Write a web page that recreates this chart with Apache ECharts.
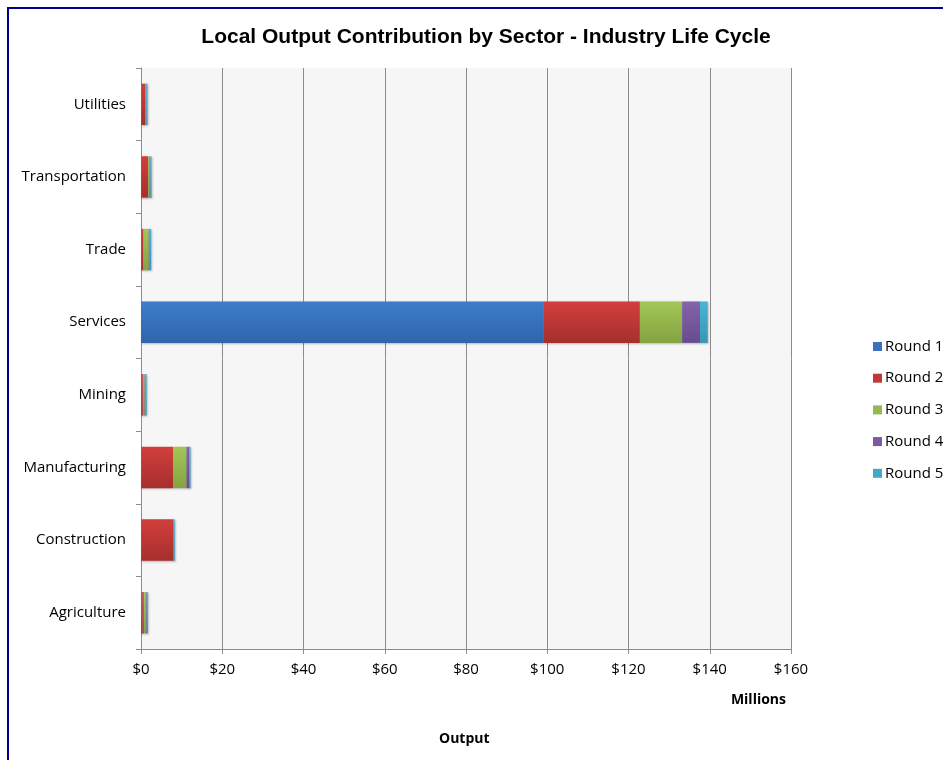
<!DOCTYPE html>
<html><head><meta charset="utf-8">
<script src="https://cdn.jsdelivr.net/npm/echarts@6/dist/echarts.min.js"></script>
<style>
html,body{margin:0;padding:0;background:#fff;}
#frame{position:absolute;left:7px;top:7px;width:960px;height:780px;border-left:2px solid #00008b;border-top:2px solid #00008b;box-sizing:border-box;}
#c{position:absolute;left:0;top:0;width:943px;height:760px;}
</style></head>
<body>
<div id="frame"></div>
<div id="c"></div>
<script>
const categories = ['Agriculture','Construction','Manufacturing','Mining','Services','Trade','Transportation','Utilities'];
const round1 = [0.3, 0.1, 0.1, 0.3, 99.0, 0.1, 0.1, 0.1];
const round2 = [0.4, 7.9, 7.8, 0.3, 23.8, 0.5, 1.7, 1.0];
const round3 = [0.5, 0.05, 3.3, 0.3, 10.4, 1.3, 0.3, 0.1];
const round4 = [0.2, 0.05, 0.7, 0.2, 4.4, 0.2, 0.2, 0.1];
const round5 = [0.3, 0.2, 0.3, 0.3, 1.9, 0.4, 0.3, 0.3];
const seriesNames = ['Round 1','Round 2','Round 3','Round 4','Round 5'];
const xTicks = [0,20,40,60,80,100,120,140,160];

const colors = [['#3d7dcc','#2f66ab'],['#d23f3c','#a62f2d'],['#a2c756','#84a342'],['#8464ac','#674c8c'],['#4bb4d4','#3796b4']];
const legendColors = ['#3a72c0','#c0393a','#94b94e','#7b5aa2','#40a8c8'];
const data = [round1, round2, round3, round4, round5];
const FONT = 'Open Sans, Noto Sans';

const chart = echarts.init(document.getElementById('c'));
chart.setOption({
  animation:false,
  title:{text:'Local Output Contribution by Sector - Industry Life Cycle',left:481,top:22,textAlign:'center',
    textStyle:{fontFamily:'Liberation Sans, Arial',fontWeight:'bold',fontSize:21,color:'#000'}},
  legend:{orient:'vertical',left:868,top:334,itemWidth:9,itemHeight:9,itemGap:16.7,icon:'rect',
    data:seriesNames.map((n,i)=>({name:n,itemStyle:{color:legendColors[i]}})),
    textStyle:{fontFamily:FONT,fontSize:15,lineHeight:15,color:'#000',padding:[0,0,0,-2]}},
  grid:{left:141,top:68,width:650,height:581,containLabel:false,show:true,backgroundColor:'#f6f6f6',borderWidth:0},
  xAxis:{type:'value',min:0,max:160,interval:20,
    name:'Millions',nameLocation:'end',nameGap:0,
    nameTextStyle:{fontFamily:FONT,fontWeight:'bold',fontSize:14,color:'#000',align:'right',verticalAlign:'top',padding:[44,5,0,0]},
    axisLine:{show:true,lineStyle:{color:'#8c8c8c'}},
    axisTick:{show:true,length:5,lineStyle:{color:'#8c8c8c'}},
    axisLabel:{formatter:v=>'$'+v,fontFamily:FONT,fontSize:15,color:'#000',margin:13},
    splitLine:{show:true,lineStyle:{color:'#8c8c8c',width:1}}},
  yAxis:{type:'category',data:categories,
    axisLine:{show:true,lineStyle:{color:'#8c8c8c'}},
    axisTick:{show:true,length:5,lineStyle:{color:'#8c8c8c'}},
    axisLabel:{fontFamily:FONT,fontSize:15,color:'#000',margin:15}},
  graphic:[{type:'text',left:439,top:732,style:{text:'Output',fontFamily:FONT,fontWeight:'bold',fontSize:14,fill:'#000'}}],
  series:data.map((d,i)=>({
    name:seriesNames[i],type:'bar',stack:'total',barWidth:'57%',data:d,
    itemStyle:{color:new echarts.graphic.LinearGradient(0,0,0,1,[{offset:0,color:colors[i][0]},{offset:1,color:colors[i][1]}]),
      shadowColor:'rgba(0,0,0,0.25)',shadowBlur:2,shadowOffsetX:1,shadowOffsetY:1}
  }))
});
</script>
</body></html>
